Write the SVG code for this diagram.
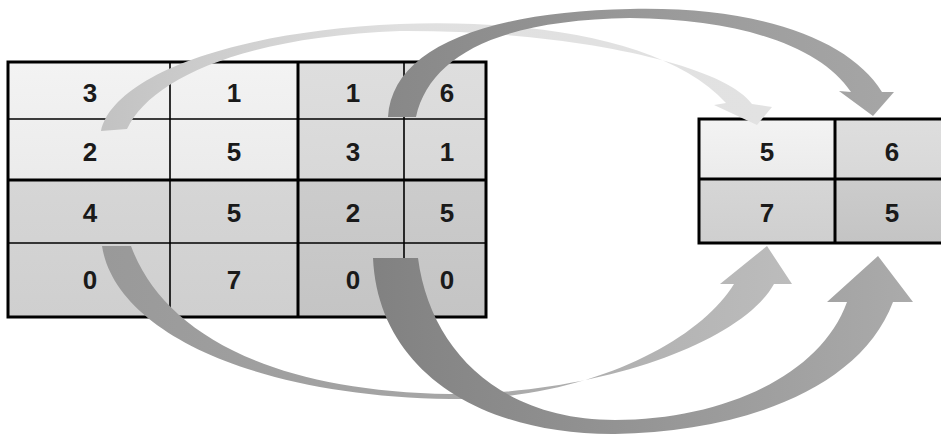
<svg xmlns="http://www.w3.org/2000/svg" width="941" height="435" viewBox="0 0 941 435">
<defs>
<style>
.num{font-family:"Liberation Sans",Arial,sans-serif;font-weight:bold;font-size:26px;fill:#1a1a1a;text-anchor:middle}
.thick{stroke:#000;stroke-width:3;fill:none}
.thin{stroke:#000;stroke-width:1.6;fill:none}
.q1{fill:url(#g1)}
.q2{fill:url(#g2)}
.q3{fill:url(#g3)}
.q4{fill:url(#g4)}
</style>
<linearGradient id="g1" x1="0" y1="0" x2="0" y2="1"><stop offset="0" stop-color="#f3f3f3"/><stop offset="1" stop-color="#ebebeb"/></linearGradient>
<linearGradient id="g2" x1="0" y1="0" x2="0" y2="1"><stop offset="0" stop-color="#dedede"/><stop offset="1" stop-color="#d8d8d8"/></linearGradient>
<linearGradient id="g3" x1="0" y1="0" x2="0" y2="1"><stop offset="0" stop-color="#d6d6d6"/><stop offset="1" stop-color="#cfcfcf"/></linearGradient>
<linearGradient id="g4" x1="0" y1="0" x2="0" y2="1"><stop offset="0" stop-color="#cccccc"/><stop offset="1" stop-color="#c4c4c4"/></linearGradient>
<linearGradient id="gA" gradientUnits="userSpaceOnUse" x1="100" y1="0" x2="770" y2="0"><stop offset="0" stop-color="#c2c2c2"/><stop offset="0.45" stop-color="#e0e0e0"/><stop offset="1" stop-color="#e2e2e2"/></linearGradient>
<linearGradient id="gB" gradientUnits="userSpaceOnUse" x1="390" y1="0" x2="900" y2="0"><stop offset="0" stop-color="#888888"/><stop offset="0.5" stop-color="#999999"/><stop offset="1" stop-color="#a6a6a6"/></linearGradient>
<linearGradient id="gC" gradientUnits="userSpaceOnUse" x1="100" y1="0" x2="790" y2="0"><stop offset="0" stop-color="#999999"/><stop offset="0.5" stop-color="#a6a6a6"/><stop offset="1" stop-color="#bcbcbc"/></linearGradient>
<linearGradient id="gD" gradientUnits="userSpaceOnUse" x1="370" y1="0" x2="915" y2="0"><stop offset="0" stop-color="#818181"/><stop offset="0.5" stop-color="#959595"/><stop offset="1" stop-color="#ababab"/></linearGradient>
</defs>
<rect width="941" height="435" fill="#ffffff"/>

<g id="input-grid">
<rect class="q1" x="8" y="62" width="290" height="118"/>
<rect class="q2" x="298" y="62" width="188" height="118"/>
<rect class="q3" x="8" y="180" width="290" height="137"/>
<rect class="q4" x="298" y="180" width="188" height="137"/>
<line class="thin" x1="170" y1="62" x2="170" y2="317"/>
<line class="thin" x1="404" y1="62" x2="404" y2="317"/>
<line class="thin" x1="8" y1="119" x2="486" y2="119"/>
<line class="thin" x1="8" y1="243" x2="486" y2="243"/>
<line class="thick" x1="298" y1="62" x2="298" y2="317"/>
<line class="thick" x1="8" y1="180" x2="486" y2="180"/>
<rect class="thick" x="8" y="62" width="478" height="255"/>
<text class="num" x="90" y="102">3</text>
<text class="num" x="234" y="102">1</text>
<text class="num" x="353" y="102">1</text>
<text class="num" x="447" y="102">6</text>
<text class="num" x="90" y="161">2</text>
<text class="num" x="234" y="161">5</text>
<text class="num" x="353" y="161">3</text>
<text class="num" x="447" y="161">1</text>
<text class="num" x="90" y="222">4</text>
<text class="num" x="234" y="222">5</text>
<text class="num" x="353" y="222">2</text>
<text class="num" x="447" y="222">5</text>
<text class="num" x="90" y="289">0</text>
<text class="num" x="234" y="289">7</text>
<text class="num" x="353" y="289">0</text>
<text class="num" x="447" y="289">0</text>
</g>

<g id="output-grid">
<rect class="q1" x="699" y="119" width="136" height="60"/>
<rect class="q2" x="835" y="119" width="110" height="60"/>
<rect class="q3" x="699" y="179" width="136" height="64"/>
<rect class="q4" x="835" y="179" width="110" height="64"/>
<line class="thick" x1="835" y1="119" x2="835" y2="243"/>
<line class="thick" x1="699" y1="179" x2="945" y2="179"/>
<rect class="thick" x="699" y="119" width="246" height="124"/>
<text class="num" x="767" y="161">5</text>
<text class="num" x="892" y="161">6</text>
<text class="num" x="767" y="222">7</text>
<text class="num" x="892" y="222">5</text>
</g>

<g id="connectors">
<path fill="url(#gA)" d="M101,131 C112,80 220,32 400,24 C540,19 670,42 726,103 L714,105 L757,125 L772,107 L752,104 C722,62 560,30 400,31 C240,37 150,80 127,129 Z"/>
<path fill="url(#gB)" d="M388,117 C392,50 480,12 630,9 C760,6 850,40 882,92 L894,92 L873,116 L839,91 L851,92 C820,46 740,19 630,18 C500,20 430,55 416,117 Z"/>
<path fill="url(#gC)" d="M102,246 C115,330 250,396 450,399 C590,400 700,340 734,284 L720,284 L767,246 L792,284 L774,284 C742,342 600,394 450,394 C265,391 162,330 131,246 Z"/>
<path fill="url(#gD)" d="M373,258 C378,370 480,435 615,434 C740,432 860,390 893,302 L913,302 L878,256 L827,302 L847,302 C820,377 720,420 615,420 C500,420 430,350 418,258 Z"/>
</g>
</svg>
